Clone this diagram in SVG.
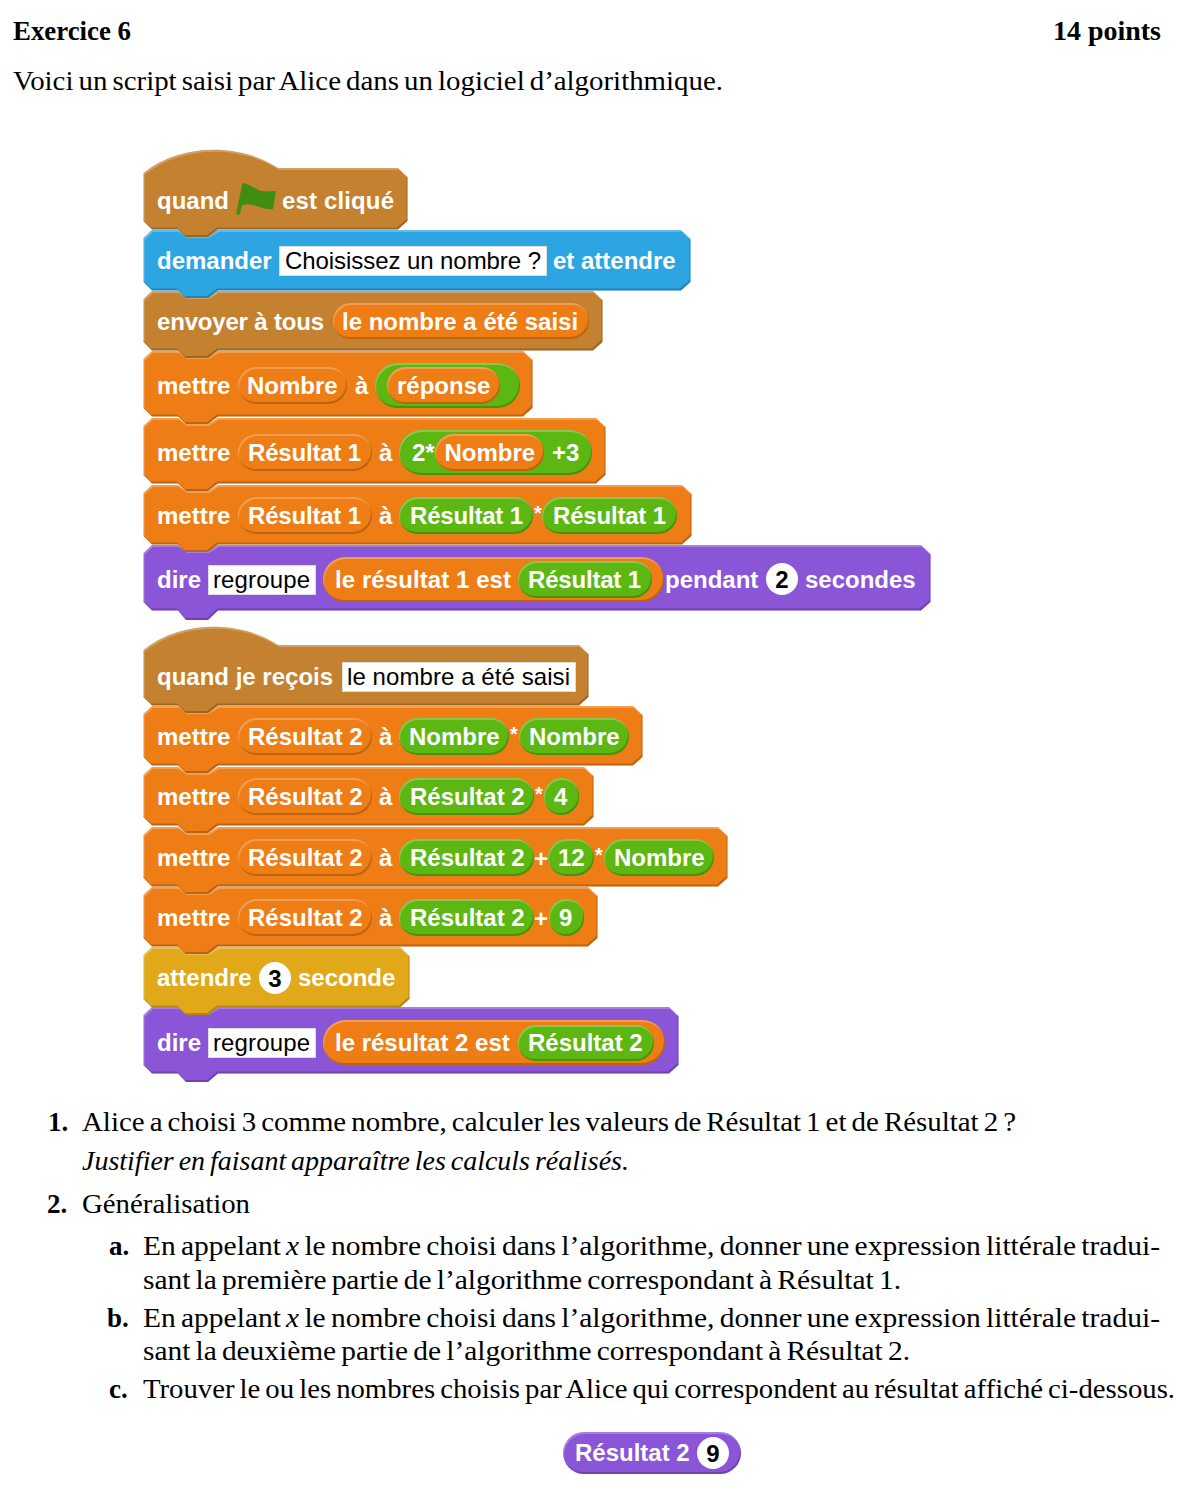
<svg xmlns="http://www.w3.org/2000/svg" width="1181" height="1498" viewBox="0 0 1181 1498">
<style>
.s{font-family:"Liberation Sans",Arial,sans-serif;font-size:24px;font-weight:700;fill:#fff}
.st{font-family:"Liberation Sans",Arial,sans-serif;font-size:20px;font-weight:700;fill:#fff}
.i{font-family:"Liberation Sans",Arial,sans-serif;font-size:24px;fill:#000}
.n{font-family:"Liberation Sans",Arial,sans-serif;font-size:24px;font-weight:700;fill:#000;text-anchor:middle}
.b{font-family:"Liberation Serif","Times New Roman",serif;font-size:27px;fill:#000;word-spacing:-2px}
.bb{font-family:"Liberation Serif","Times New Roman",serif;font-size:27px;font-weight:700;fill:#000}
.it{font-style:italic}
.brown{fill:#C4812F;filter:url(#bevel)}
.blue{fill:#2CA5E2;filter:url(#bevel)}
.or{fill:#EE7D16;filter:url(#bevel)}
.gr{fill:#5CB712;filter:url(#bevel)}
.pu{fill:#8A55D7;filter:url(#bevel)}
.ye{fill:#E1A91A;filter:url(#bevel)}
.box{fill:#fff;stroke:#ddd;stroke-width:1}
.c{fill:#fff}
</style>
<defs>
<filter id="bevel" x="-3%" y="-10%" width="106%" height="120%" color-interpolation-filters="sRGB">
<feOffset in="SourceAlpha" dx="1" dy="2" result="a"/>
<feComposite in="SourceAlpha" in2="a" operator="out" result="top"/>
<feFlood flood-color="#fff" flood-opacity=".25"/>
<feComposite in2="top" operator="in" result="topc"/>
<feOffset in="SourceAlpha" dx="-1" dy="-2" result="b"/>
<feComposite in="SourceAlpha" in2="b" operator="out" result="bot"/>
<feFlood flood-color="#000" flood-opacity=".2"/>
<feComposite in2="bot" operator="in" result="botc"/>
<feMerge><feMergeNode in="SourceGraphic"/><feMergeNode in="topc"/><feMergeNode in="botc"/></feMerge>
</filter>
</defs>
<rect width="1181" height="1498" fill="#fff"/>

<g id="header">
<text class="bb" x="13" y="40" textLength="118" lengthAdjust="spacingAndGlyphs">Exercice 6</text>
<text class="bb" x="1053" y="40" textLength="108" lengthAdjust="spacingAndGlyphs">14 points</text>
<text class="b" x="13" y="90" textLength="710" lengthAdjust="spacingAndGlyphs">Voici un script saisi par Alice dans un logiciel d’algorithmique.</text>
</g>

<g id="block-dire-2">
<path class="pu" d="M143.500,1015 L152,1007 H178 L186,1013 H208 L218,1007 H669 L678.500,1016 V1065 L669,1073.500 H218 L208,1082 H186 L178,1073.500 H152 L143.500,1065 Z"/>
<text class="s" x="157" y="1051">dire</text>
<rect class="box" x="208.500" y="1028.500" width="107" height="29"/>
<text class="i" x="213" y="1051" textLength="97">regroupe</text>
<rect class="or" x="323" y="1020" width="342" height="45" rx="22.500"/>
<text class="s" x="335" y="1051">le résultat 2 est</text>
<rect class="gr" x="518" y="1025" width="136" height="36" rx="18"/>
<text class="s" x="528" y="1051">Résultat 2</text>
</g>

<g id="block-attendre">
<path class="ye" d="M143.500,955 L152,947 H178 L186,953 H208 L218,947 H400 L409.500,956 V999 L400,1007.500 H218 L208,1015 H186 L178,1007.500 H152 L143.500,999 Z"/>
<text class="s" x="157" y="986">attendre</text>
<circle class="c" cx="275" cy="978" r="16"/>
<text class="n" x="275" y="986.500">3</text>
<text class="s" x="298" y="986">seconde</text>
</g>

<g id="block-mettre-r2d">
<path class="or" d="M143.500,895 L152,887 H178 L186,893 H208 L218,887 H588 L597.500,896 V938 L588,946.500 H218 L208,954 H186 L178,946.500 H152 L143.500,938 Z"/>
<text class="s" x="157" y="926">mettre</text>
<rect class="or" x="238" y="899" width="134" height="37" rx="18.500"/>
<text class="s" x="248" y="926">Résultat 2</text>
<text class="s" x="379" y="926">à</text>
<rect class="gr" x="399" y="899" width="135" height="37" rx="18.500"/>
<text class="s" x="410" y="926">Résultat 2</text>
<text class="s" x="534" y="927">+</text>
<rect class="gr" x="549" y="899" width="35" height="37" rx="17.500"/>
<text class="s" x="559" y="926">9</text>
</g>

<g id="block-mettre-r2c">
<path class="or" d="M143.500,835 L152,827 H178 L186,833 H208 L218,827 H718 L727.500,836 V878 L718,886.500 H218 L208,894 H186 L178,886.500 H152 L143.500,878 Z"/>
<text class="s" x="157" y="866">mettre</text>
<rect class="or" x="238" y="839" width="134" height="37" rx="18.500"/>
<text class="s" x="248" y="866">Résultat 2</text>
<text class="s" x="379" y="866">à</text>
<rect class="gr" x="399" y="839" width="135" height="37" rx="18.500"/>
<text class="s" x="410" y="866">Résultat 2</text>
<text class="s" x="534" y="867">+</text>
<rect class="gr" x="548" y="839" width="46" height="37" rx="18.500"/>
<text class="s" x="558" y="866">12</text>
<text class="st" x="595" y="862">*</text>
<rect class="gr" x="604" y="839" width="110" height="37" rx="18.500"/>
<text class="s" x="614" y="866">Nombre</text>
</g>

<g id="block-mettre-r2b">
<path class="or" d="M143.500,775 L152,767 H178 L186,773 H208 L218,767 H584 L593.500,776 V817 L584,825.500 H218 L208,833 H186 L178,825.500 H152 L143.500,817 Z"/>
<text class="s" x="157" y="805">mettre</text>
<rect class="or" x="238" y="778" width="134" height="37" rx="18.500"/>
<text class="s" x="248" y="805">Résultat 2</text>
<text class="s" x="379" y="805">à</text>
<rect class="gr" x="399" y="778" width="135" height="37" rx="18.500"/>
<text class="s" x="410" y="805">Résultat 2</text>
<text class="st" x="535" y="801">*</text>
<rect class="gr" x="544" y="778" width="35" height="37" rx="17.500"/>
<text class="s" x="554" y="805">4</text>
</g>

<g id="block-mettre-r2a">
<path class="or" d="M143.500,714 L152,706 H178 L186,712 H208 L218,706 H633 L642.500,715 V757 L633,765.500 H218 L208,773 H186 L178,765.500 H152 L143.500,757 Z"/>
<text class="s" x="157" y="745">mettre</text>
<rect class="or" x="238" y="718" width="134" height="37" rx="18.500"/>
<text class="s" x="248" y="745">Résultat 2</text>
<text class="s" x="379" y="745">à</text>
<rect class="gr" x="399" y="718" width="110" height="37" rx="18.500"/>
<text class="s" x="409" y="745">Nombre</text>
<text class="st" x="510" y="741">*</text>
<rect class="gr" x="519" y="718" width="110" height="37" rx="18.500"/>
<text class="s" x="529" y="745">Nombre</text>
</g>

<g id="hat-recois">
<path class="brown" d="M143.500,650 C180,620 240,620 278,645 H579 L588.500,654 V697 L579,705.500 H218 L208,713 H186 L178,705.500 H152 L143.500,697 Z"/>
<text class="s" x="157" y="685">quand je reçois</text>
<rect class="box" x="342.500" y="662.500" width="233" height="29"/>
<text class="i" x="347" y="685" textLength="223">le nombre a été saisi</text>
</g>

<g id="block-dire-1">
<path class="pu" d="M143.500,553 L152,545 H178 L186,551 H208 L218,545 H921 L930.500,554 V602 L921,610.500 H218 L208,620 H186 L178,610.500 H152 L143.500,602 Z"/>
<text class="s" x="157" y="588">dire</text>
<rect class="box" x="208.500" y="565.500" width="107" height="29"/>
<text class="i" x="213" y="588" textLength="97">regroupe</text>
<rect class="or" x="323" y="557" width="341" height="45" rx="22.500"/>
<text class="s" x="335" y="588" textLength="176" lengthAdjust="spacing">le résultat 1 est</text>
<rect class="gr" x="518" y="561" width="134" height="37" rx="18.500"/>
<text class="s" x="528" y="588" textLength="113" lengthAdjust="spacing">Résultat 1</text>
<text class="s" x="665" y="588">pendant</text>
<circle class="c" cx="782" cy="579" r="16"/>
<text class="n" x="782" y="587.500">2</text>
<text class="s" x="805" y="588">secondes</text>
</g>

<g id="block-mettre-r1b">
<path class="or" d="M143.500,493 L152,485 H178 L186,491 H208 L218,485 H682 L691.500,494 V536 L682,544.500 H218 L208,552 H186 L178,544.500 H152 L143.500,536 Z"/>
<text class="s" x="157" y="524">mettre</text>
<rect class="or" x="238" y="497" width="134" height="37" rx="18.500"/>
<text class="s" x="248" y="524" textLength="113" lengthAdjust="spacing">Résultat 1</text>
<text class="s" x="379" y="524">à</text>
<rect class="gr" x="399" y="497" width="134" height="37" rx="18.500"/>
<text class="s" x="410" y="524" textLength="113" lengthAdjust="spacing">Résultat 1</text>
<text class="st" x="534" y="520">*</text>
<rect class="gr" x="542" y="497" width="135" height="37" rx="18.500"/>
<text class="s" x="553" y="524" textLength="113" lengthAdjust="spacing">Résultat 1</text>
</g>

<g id="block-mettre-r1a">
<path class="or" d="M143.500,426 L152,418 H178 L186,424 H208 L218,418 H596 L605.500,427 V475 L596,483.500 H218 L208,491 H186 L178,483.500 H152 L143.500,475 Z"/>
<text class="s" x="157" y="461">mettre</text>
<rect class="or" x="238" y="434" width="134" height="37" rx="18.500"/>
<text class="s" x="248" y="461" textLength="113" lengthAdjust="spacing">Résultat 1</text>
<text class="s" x="379" y="461">à</text>
<rect class="gr" x="399" y="430" width="193" height="45" rx="22.500"/>
<text class="s" x="412" y="461">2*</text>
<rect class="or" x="435" y="434" width="109" height="37" rx="18.500"/>
<text class="s" x="444.500" y="461">Nombre</text>
<text class="s" x="552" y="461">+3</text>
</g>

<g id="block-mettre-nombre">
<path class="or" d="M143.500,359 L152,351 H178 L186,357 H208 L218,351 H523 L532.500,360 V408 L523,416.500 H218 L208,424 H186 L178,416.500 H152 L143.500,408 Z"/>
<text class="s" x="157" y="394">mettre</text>
<rect class="or" x="238" y="367" width="109" height="37" rx="18.500"/>
<text class="s" x="247" y="394">Nombre</text>
<text class="s" x="355" y="394">à</text>
<rect class="gr" x="375" y="363" width="145" height="45" rx="22.500"/>
<rect class="or" x="387" y="367" width="113" height="37" rx="18.500"/>
<text class="s" x="397" y="394">réponse</text>
</g>

<g id="block-envoyer">
<path class="brown" d="M143.500,299 L152,291 H178 L186,297 H208 L218,291 H593 L602.500,300 V342 L593,350.500 H218 L208,358 H186 L178,350.500 H152 L143.500,342 Z"/>
<text class="s" x="157" y="330" textLength="167" lengthAdjust="spacing">envoyer à tous</text>
<rect class="or" x="333" y="303" width="256" height="36" rx="18"/>
<text class="s" x="342" y="330">le nombre a été saisi</text>
</g>

<g id="block-demander">
<path class="blue" d="M143.500,238 L152,230 H178 L186,236 H208 L218,230 H681 L690.500,239 V282 L681,290.500 H218 L208,298 H186 L178,290.500 H152 L143.500,282 Z"/>
<text class="s" x="157" y="269">demander</text>
<rect class="box" x="279.500" y="246.500" width="267" height="29"/>
<text class="i" x="285" y="269" textLength="256">Choisissez un nombre ?</text>
<text class="s" x="553" y="269">et attendre</text>
</g>

<g id="hat-drapeau">
<path class="brown" d="M143.500,173 C180,143 240,143 278,168 H398 L407.500,177 V221 L398,229.500 H218 L208,237 H186 L178,229.500 H152 L143.500,221 Z"/>
<text class="s" x="157" y="209">quand</text>
<path d="M236,214.500 L242.500,183 C250,184 256,190 262,191 C267,192 272,191 276,191 L273,209 C266,210 260,207 254,205 C250,204 246,204 242,205 L240,214.500 Z" fill="#3F8E13"/>
<text class="s" x="282" y="209" textLength="112" lengthAdjust="spacing">est cliqué</text>
</g>

<g id="questions">
<text class="bb" x="48" y="1131">1.</text>
<text class="b" x="82" y="1131" textLength="934" lengthAdjust="spacingAndGlyphs">Alice a choisi 3 comme nombre, calculer les valeurs de Résultat 1 et de Résultat 2 ?</text>
<text class="b it" x="82" y="1170" textLength="547" lengthAdjust="spacingAndGlyphs">Justifier en faisant apparaître les calculs réalisés.</text>
<text class="bb" x="47" y="1213">2.</text>
<text class="b" x="82" y="1213" textLength="168" lengthAdjust="spacingAndGlyphs">Généralisation</text>
<text class="bb" x="109" y="1255">a.</text>
<text class="b" x="143" y="1255" textLength="1017" lengthAdjust="spacingAndGlyphs">En appelant <tspan class="it">x</tspan> le nombre choisi dans l’algorithme, donner une expression littérale tradui-</text>
<text class="b" x="143" y="1289" textLength="758" lengthAdjust="spacingAndGlyphs">sant la première partie de l’algorithme correspondant à Résultat 1.</text>
<text class="bb" x="107" y="1327">b.</text>
<text class="b" x="143" y="1327" textLength="1017" lengthAdjust="spacingAndGlyphs">En appelant <tspan class="it">x</tspan> le nombre choisi dans l’algorithme, donner une expression littérale tradui-</text>
<text class="b" x="143" y="1360" textLength="767" lengthAdjust="spacingAndGlyphs">sant la deuxième partie de l’algorithme correspondant à Résultat 2.</text>
<text class="bb" x="109" y="1398">c.</text>
<text class="b" x="143" y="1398" textLength="1032" lengthAdjust="spacingAndGlyphs">Trouver le ou les nombres choisis par Alice qui correspondent au résultat affiché ci-dessous.</text>
</g>

<g id="reporter-resultat2">
<rect class="pu" x="563" y="1432" width="178" height="42" rx="21"/>
<text class="s" x="575" y="1461">Résultat 2</text>
<circle class="c" cx="713" cy="1453" r="16"/>
<text class="n" x="713" y="1462">9</text>
</g>
</svg>
